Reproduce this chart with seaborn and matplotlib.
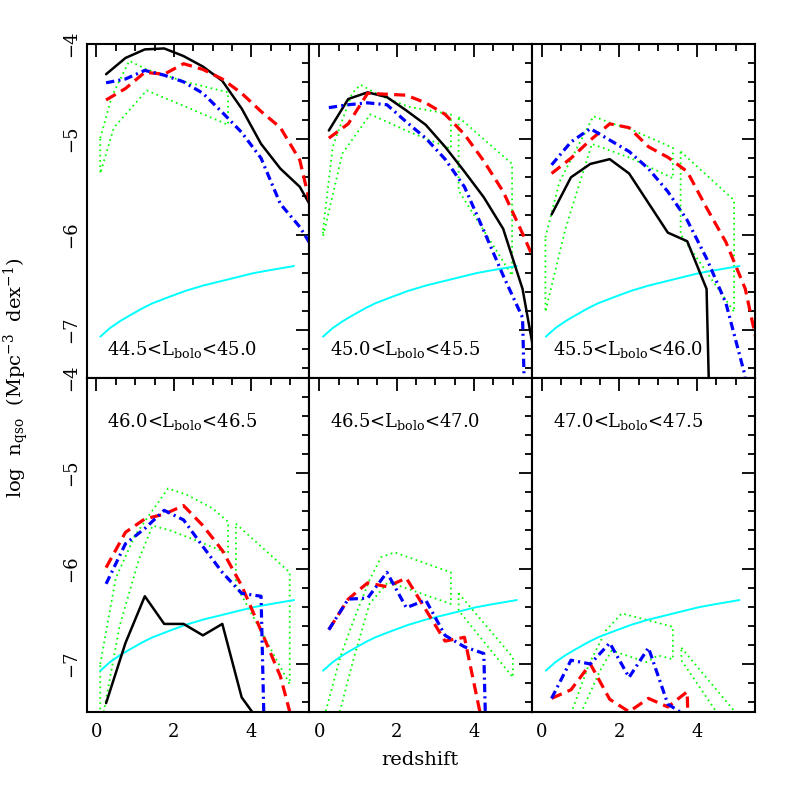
import numpy as np
import pandas as pd
import matplotlib
matplotlib.use('Agg')
import matplotlib.pyplot as plt
import seaborn as sns
from matplotlib.ticker import MultipleLocator

# redshift bin centres of the model curves
z_mod = [0.25, 0.75, 1.25, 1.75, 2.25, 2.75, 3.25, 3.75, 4.25, 4.75, 5.25, 5.75]

bin_labels = ['44.5<L$_{\\rm bolo}$<45.0', '45.0<L$_{\\rm bolo}$<45.5', '45.5<L$_{\\rm bolo}$<46.0',
              '46.0<L$_{\\rm bolo}$<46.5', '46.5<L$_{\\rm bolo}$<47.0', '47.0<L$_{\\rm bolo}$<47.5']

# log n_qso per panel (black solid, red dashed, blue dot-dashed)
black_y = [
    [-4.32, -4.15, -4.06, -4.05, -4.13, -4.24, -4.39, -4.68, -5.05, -5.31, -5.50, -5.86],
    [-4.91, -4.58, -4.51, -4.56, -4.70, -4.85, -5.08, -5.34, -5.61, -5.94, -6.57, -7.70],
    [-5.79, -5.40, -5.26, -5.21, -5.36, -5.67, -5.98, -6.07, -6.57, -15.0],
    [-7.41, -6.78, -6.29, -6.58, -6.58, -6.70, -6.58, -7.35, -7.63],
    [],
    [],
]
red_y = [
    [-4.59, -4.47, -4.30, -4.32, -4.21, -4.27, -4.37, -4.52, -4.71, -4.88, -5.22, -6.08],
    [-4.99, -4.84, -4.52, -4.53, -4.54, -4.62, -4.74, -4.95, -5.23, -5.55, -5.99, -6.45],
    [-5.36, -5.20, -5.01, -4.84, -4.88, -5.08, -5.19, -5.34, -5.72, -6.08, -6.57, -7.52],
    [-5.99, -5.62, -5.48, -5.43, -5.34, -5.55, -5.81, -6.18, -6.65, -7.13, -7.90],
    [-6.64, -6.32, -6.15, -6.19, -6.10, -6.43, -6.76, -6.72, -7.70],
    [-7.36, -7.27, -7.00, -7.37, -7.50, -7.36, -7.45, -7.29, -15.0],
]
blue_y = [
    [-4.41, -4.37, -4.28, -4.33, -4.40, -4.52, -4.72, -4.93, -5.20, -5.68, -5.92, -6.25],
    [-4.67, -4.64, -4.62, -4.64, -4.82, -4.99, -5.21, -5.50, -5.96, -6.43, -6.87, -15.0],
    [-5.27, -5.03, -4.89, -5.01, -5.13, -5.31, -5.55, -5.85, -6.25, -6.72, -7.49],
    [-6.16, -5.74, -5.58, -5.39, -5.49, -5.77, -6.04, -6.26, -6.29, -15.0],
    [-6.64, -6.32, -6.31, -6.04, -6.41, -6.33, -6.70, -6.82, -6.89, -15.0],
    [-7.36, -6.96, -7.00, -6.78, -7.14, -6.83, -7.42, -7.55],
]

# observed range (green dotted): low-z piece A and high-z piece B, upper and lower edges
env_a_up_x = [[0.1, 0.4, 0.85, 1.3, 2.3, 3.4],
              [0.1, 0.35, 0.85, 1.07, 1.55, 2.3, 2.85, 3.4],
              [0.09, 0.45, 1.33, 1.76, 2.25, 3.38],
              [0.1, 0.5, 1.0, 1.85, 2.35, 3.0, 3.4],
              [0.1, 0.55, 0.9, 1.3, 1.6, 1.95, 3.4],
              [0.75, 1.22, 1.65, 2.06, 3.38]]
env_a_up_y = [[-4.99, -4.55, -4.18, -4.27, -4.40, -4.51],
              [-5.95, -5.08, -4.52, -4.43, -4.54, -4.66, -4.70, -4.74],
              [-6.03, -5.45, -4.76, -4.83, -4.89, -5.09],
              [-7.00, -6.10, -5.65, -5.16, -5.23, -5.37, -5.51],
              [-7.60, -6.92, -6.53, -6.12, -5.88, -5.83, -6.04],
              [-7.52, -7.00, -6.65, -6.47, -6.61]]
env_a_lo_x = [[0.1, 0.45, 1.3, 2.3, 3.4],
              [0.1, 0.6, 1.32, 2.3, 3.4],
              [0.09, 0.6, 1.29, 2.3, 3.38],
              [0.1, 0.6, 1.1, 1.45, 1.9, 2.35, 3.4],
              [0.5, 0.9, 1.3, 1.78, 3.4],
              [1.0, 1.5, 1.8, 2.7, 3.0, 3.38]]
env_a_lo_y = [[-5.36, -4.88, -4.49, -4.66, -4.85],
              [-6.02, -5.15, -4.74, -4.92, -5.10],
              [-6.81, -5.95, -5.05, -5.20, -5.41],
              [-7.70, -6.60, -5.90, -5.55, -5.60, -5.67, -5.84],
              [-7.55, -6.93, -6.37, -6.14, -6.37],
              [-7.52, -7.07, -6.86, -6.98, -6.91, -6.95]]
env_b_up_x = [[], [3.6, 4.98], [3.58, 4.96], [3.6, 4.99], [3.6, 5.0], [3.6, 4.96]]
env_b_up_y = [[], [-4.77, -5.26], [-5.13, -5.64], [-5.53, -6.04], [-6.26, -6.93], [-6.83, -7.49]]
env_b_lo_x = [[], [3.6, 4.98], [3.58, 4.96], [3.6, 4.99], [3.6, 5.0], [3.6, 4.5, 4.96]]
env_b_lo_y = [[], [-5.54, -6.43], [-6.00, -6.81], [-6.17, -7.21], [-6.44, -7.14], [-6.96, -7.50, -7.80]]

# one-object density limit (cyan)
cyan_z = [0.1, 0.35, 0.6, 0.85, 1.2, 1.45, 1.9, 2.3, 2.75, 3.2, 3.6, 4.05, 4.45, 5.1]
cyan_y = [-7.07, -6.98, -6.91, -6.85, -6.77, -6.72, -6.65, -6.59, -6.535, -6.49, -6.45, -6.405, -6.375, -6.33]

sns.set_style('white')
plt.rcParams['font.family'] = ['DejaVu Serif']
plt.rcParams['mathtext.fontset'] = 'dejavuserif'
plt.rcParams['lines.scale_dashes'] = False
plt.rcParams['text.color'] = 'black'
plt.rcParams['xtick.color'] = 'black'
plt.rcParams['ytick.color'] = 'black'

fig, axes = plt.subplots(2, 3, figsize=(7.97, 7.97), dpi=100, sharex=True, sharey=True)
fig.subplots_adjust(left=0.1088, right=0.9473, top=0.9452, bottom=0.107, wspace=0, hspace=0)


def draw(ax, x, y, **kw):
    if len(y) == 0:
        return
    sns.lineplot(x=list(x)[:len(y)], y=y, ax=ax, estimator=None, sort=False, **kw)


for i, ax in enumerate(axes.flat):
    for ux, uy, lx, ly in [(env_a_up_x[i], env_a_up_y[i], env_a_lo_x[i], env_a_lo_y[i]),
                           (env_b_up_x[i], env_b_up_y[i], env_b_lo_x[i], env_b_lo_y[i])]:
        if len(ux) == 0:
            continue
        px = ux + lx[::-1] + ux[:1]
        py = uy + ly[::-1] + uy[:1]
        draw(ax, px, py, color='#00ff00', lw=1.3, linestyle=(0, (1.2, 2.6)))
    draw(ax, cyan_z, cyan_y, color='#00ffff', lw=1.4)
    draw(ax, z_mod, black_y[i], color='black', lw=1.8)
    draw(ax, z_mod, red_y[i], color='#ff0000', lw=2.3, linestyle=(0, (8, 4.5)))
    draw(ax, z_mod, blue_y[i], color='#0000ff', lw=2.3, linestyle=(0, (6, 3, 1.5, 3)))

    ax.set_xlim(-0.25, 5.5)
    ax.set_ylim(-7.5, -4)
    ax.set_xlabel('')
    ax.set_ylabel('')
    ax.xaxis.set_major_locator(MultipleLocator(2))
    ax.xaxis.set_minor_locator(MultipleLocator(0.5))
    ax.yaxis.set_major_locator(MultipleLocator(1))
    ax.yaxis.set_minor_locator(MultipleLocator(0.2))
    ax.tick_params(which='both', direction='in', top=True, right=True, width=1.3, colors='black')
    ax.tick_params(which='major', length=9.5)
    ax.tick_params(which='minor', length=5)
    ax.tick_params(axis='x', labelsize=13, pad=8)
    ax.tick_params(axis='y', labelsize=13, pad=5)
    for sp in ax.spines.values():
        sp.set_linewidth(1.5)
        sp.set_color('black')
    if i < 3:
        ax.text(0.091, 0.068, bin_labels[i], transform=ax.transAxes, fontsize=13, color='black')
    else:
        ax.text(0.091, 0.853, bin_labels[i], transform=ax.transAxes, fontsize=13, color='black')

for ax in axes[:, 0]:
    ax.set_yticks([-7, -6, -5, -4])
    for lab in ax.get_yticklabels():
        lab.set_rotation(90)
        lab.set_va('center')
        lab.set_ha('right')

fig.text(0.527, 0.046, 'redshift', ha='center', va='center', fontsize=14, color='black')
fig.text(0.02, 0.526, 'log  n$_{\\rm qso}$  (Mpc$^{-3}$  dex$^{-1}$)', rotation=90,
         ha='center', va='center', fontsize=14, color='black')

fig.savefig('out.png', dpi=100)
